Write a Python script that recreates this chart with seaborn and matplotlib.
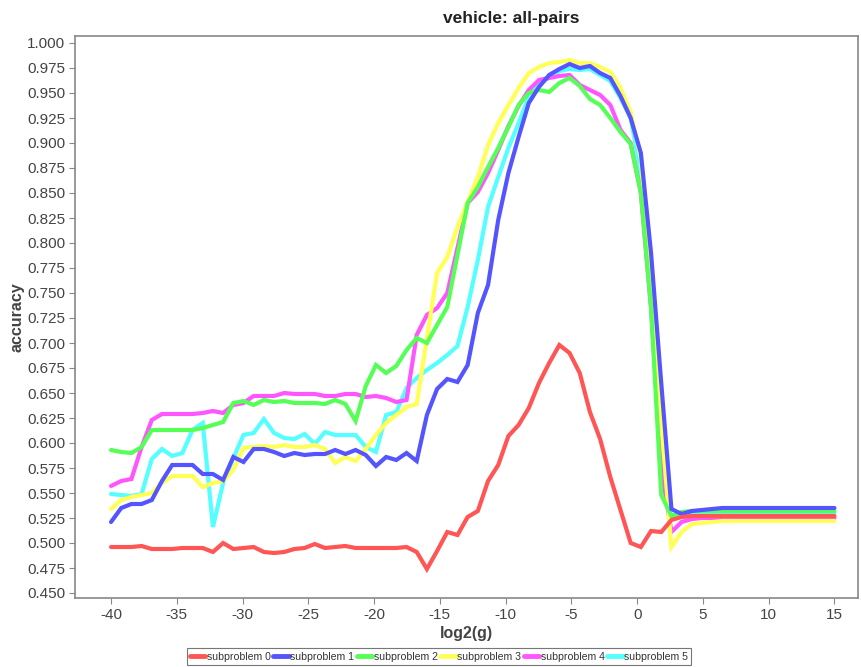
import numpy as np
import pandas as pd
import matplotlib
matplotlib.use("Agg")
import matplotlib.pyplot as plt
import seaborn as sns
from matplotlib.lines import Line2D

# log2(g) grid: 72 values from -40 to 15
log2g = [-40.0, -39.225, -38.451, -37.676, -36.901, -36.127, -35.352, -34.577,
         -33.803, -33.028, -32.254, -31.479, -30.704, -29.930, -29.155, -28.380,
         -27.606, -26.831, -26.056, -25.282, -24.507, -23.732, -22.958, -22.183,
         -21.408, -20.634, -19.859, -19.085, -18.310, -17.535, -16.761, -15.986,
         -15.211, -14.437, -13.662, -12.887, -12.113, -11.338, -10.563, -9.789,
         -9.014, -8.239, -7.465, -6.690, -5.915, -5.141, -4.366, -3.592,
         -2.817, -2.042, -1.268, -0.493, 0.282, 1.056, 1.831, 2.606,
         3.380, 4.155, 4.930, 5.704, 6.479, 7.254, 8.028, 8.803,
         9.577, 10.352, 11.127, 11.901, 12.676, 13.451, 14.225, 15.0]

sub0 = [0.496, 0.496, 0.496, 0.497, 0.494, 0.494, 0.494, 0.495, 0.495, 0.495,
        0.491, 0.500, 0.494, 0.495, 0.496, 0.491, 0.490, 0.491, 0.494, 0.495,
        0.499, 0.495, 0.496, 0.497, 0.495, 0.495, 0.495, 0.495, 0.495, 0.496,
        0.491, 0.474, 0.492, 0.511, 0.508, 0.526, 0.532, 0.562, 0.578, 0.607,
        0.618, 0.635, 0.660, 0.680, 0.698, 0.690, 0.670, 0.631, 0.604, 0.566,
        0.533, 0.500, 0.496, 0.512, 0.511, 0.523, 0.526, 0.527, 0.527, 0.527,
        0.527, 0.527, 0.527, 0.527, 0.527, 0.527, 0.527, 0.527, 0.527, 0.527,
        0.527, 0.527]
sub1 = [0.521, 0.535, 0.539, 0.539, 0.543, 0.562, 0.578, 0.578, 0.578, 0.569,
        0.569, 0.563, 0.586, 0.581, 0.594, 0.594, 0.591, 0.587, 0.590, 0.588,
        0.589, 0.589, 0.593, 0.589, 0.593, 0.588, 0.577, 0.586, 0.583, 0.590,
        0.582, 0.628, 0.654, 0.664, 0.661, 0.678, 0.730, 0.758, 0.823, 0.870,
        0.906, 0.940, 0.956, 0.968, 0.974, 0.979, 0.975, 0.977, 0.970, 0.965,
        0.947, 0.925, 0.890, 0.790, 0.660, 0.534, 0.529, 0.532, 0.533, 0.534,
        0.535, 0.535, 0.535, 0.535, 0.535, 0.535, 0.535, 0.535, 0.535, 0.535,
        0.535, 0.535]
sub2 = [0.593, 0.591, 0.590, 0.596, 0.613, 0.613, 0.613, 0.613, 0.613, 0.615,
        0.618, 0.621, 0.640, 0.642, 0.638, 0.643, 0.641, 0.642, 0.640, 0.640,
        0.640, 0.639, 0.643, 0.639, 0.622, 0.657, 0.678, 0.670, 0.677, 0.693,
        0.705, 0.700, 0.718, 0.736, 0.788, 0.840, 0.856, 0.876, 0.895, 0.916,
        0.938, 0.950, 0.953, 0.951, 0.960, 0.965, 0.957, 0.944, 0.938, 0.925,
        0.911, 0.899, 0.850, 0.735, 0.548, 0.527, 0.531, 0.532, 0.532, 0.532,
        0.532, 0.532, 0.532, 0.532, 0.532, 0.532, 0.532, 0.532, 0.532, 0.532,
        0.532, 0.532]
sub3 = [0.534, 0.543, 0.546, 0.548, 0.550, 0.560, 0.567, 0.567, 0.567, 0.556,
        0.560, 0.562, 0.573, 0.595, 0.596, 0.597, 0.596, 0.598, 0.596, 0.596,
        0.598, 0.594, 0.580, 0.586, 0.582, 0.594, 0.608, 0.620, 0.628, 0.636,
        0.639, 0.705, 0.770, 0.786, 0.816, 0.841, 0.866, 0.898, 0.920, 0.938,
        0.955, 0.970, 0.976, 0.980, 0.981, 0.983, 0.980, 0.980, 0.976, 0.971,
        0.955, 0.931, 0.885, 0.770, 0.620, 0.496, 0.511, 0.519, 0.520, 0.521,
        0.522, 0.522, 0.522, 0.522, 0.522, 0.522, 0.522, 0.522, 0.522, 0.522,
        0.522, 0.522]
sub4 = [0.557, 0.562, 0.564, 0.596, 0.623, 0.629, 0.629, 0.629, 0.629, 0.630,
        0.632, 0.630, 0.638, 0.640, 0.647, 0.647, 0.647, 0.650, 0.649, 0.649,
        0.649, 0.647, 0.647, 0.649, 0.649, 0.646, 0.647, 0.645, 0.641, 0.643,
        0.708, 0.728, 0.735, 0.750, 0.795, 0.840, 0.851, 0.870, 0.893, 0.917,
        0.937, 0.953, 0.963, 0.965, 0.967, 0.968, 0.958, 0.953, 0.948, 0.938,
        0.913, 0.900, 0.850, 0.735, 0.575, 0.511, 0.521, 0.524, 0.525, 0.525,
        0.525, 0.525, 0.525, 0.525, 0.525, 0.525, 0.525, 0.525, 0.525, 0.525,
        0.525, 0.525]
sub5 = [0.549, 0.548, 0.547, 0.549, 0.584, 0.594, 0.587, 0.590, 0.613, 0.620,
        0.516, 0.560, 0.585, 0.608, 0.610, 0.624, 0.610, 0.605, 0.604, 0.609,
        0.599, 0.611, 0.608, 0.608, 0.608, 0.596, 0.591, 0.628, 0.631, 0.655,
        0.665, 0.673, 0.680, 0.688, 0.697, 0.736, 0.783, 0.836, 0.866, 0.895,
        0.920, 0.946, 0.958, 0.966, 0.972, 0.974, 0.973, 0.974, 0.968, 0.962,
        0.945, 0.925, 0.870, 0.760, 0.580, 0.525, 0.528, 0.529, 0.530, 0.530,
        0.530, 0.530, 0.530, 0.530, 0.530, 0.530, 0.530, 0.530, 0.530, 0.530,
        0.530, 0.530]

names = ["subproblem 0", "subproblem 1", "subproblem 2",
         "subproblem 3", "subproblem 4", "subproblem 5"]
colors = ["#FF5555", "#5555FF", "#55FF55", "#FFFF55", "#FF55FF", "#55FFFF"]
series = [sub0, sub1, sub2, sub3, sub4, sub5]

rows = []
for name, vals in zip(names, series):
    for xv, yv in zip(log2g, vals):
        rows.append({"log2(g)": xv, "accuracy": yv, "series": name})
df = pd.DataFrame(rows)

sns.set_style("white")
plt.rcParams['font.family'] = ['Liberation Sans', 'DejaVu Sans']
plt.rcParams['axes.unicode_minus'] = False

fig = plt.figure(figsize=(8.61, 6.67), dpi=100)
ax = fig.add_axes([75/861, 1-598/667, (858-75)/861, (598-36)/667])

sns.lineplot(data=df, x="log2(g)", y="accuracy", hue="series",
             hue_order=names, palette=dict(zip(names, colors)),
             linewidth=3.0, ax=ax, legend=False, estimator=None,
             sort=False)

# JFreeChart draws series in reverse order: series 0 on top
for i, ln in enumerate(ax.lines):
    ln.set_zorder(10 - i)
    ln.set_solid_joinstyle("miter")

ax.set_xlim(-42.74, 16.79)
ax.set_ylim(0.445, 1.007)
ax.set_xticks([-40, -35, -30, -25, -20, -15, -10, -5, 0, 5, 10, 15])
yt = [0.45 + 0.025 * i for i in range(23)]
ax.set_yticks(yt)
ax.set_yticklabels([f"{v:.3f}" for v in yt])

ax.tick_params(axis="both", direction="out", length=4, width=0.8,
               color="#888888", labelcolor="#444444", labelsize=11,
               left=True, bottom=True, pad=3)
for sp in ax.spines.values():
    sp.set_color("#888888")
    sp.set_linewidth(1.2)

ax.set_xlabel("log2(g)", fontsize=11.5, fontweight="bold", color="#444444",
              labelpad=3)
ax.set_ylabel("accuracy", fontsize=11.5, fontweight="bold", color="#444444",
              labelpad=2)
fig.text(511 / 861, 1 - 18 / 667, "vehicle: all-pairs",
         ha="center", va="center", fontsize=12.5, fontweight="bold",
         color="#222222")

handles = [Line2D([0], [0], color=c, lw=3.5) for c in colors]
leg = fig.legend(handles, names, loc="center", ncol=6,
                 bbox_to_anchor=(439/861, 1 - 656.5/667),
                 fontsize=7.6, frameon=True, fancybox=False,
                 handlelength=1.45, handletextpad=0.15, columnspacing=0.25,
                 borderpad=0.3, borderaxespad=0)
leg.get_frame().set_edgecolor("#555555")
leg.get_frame().set_linewidth(0.8)
for t in leg.get_texts():
    t.set_color("#333333")

fig.savefig("out.png", dpi=100)
